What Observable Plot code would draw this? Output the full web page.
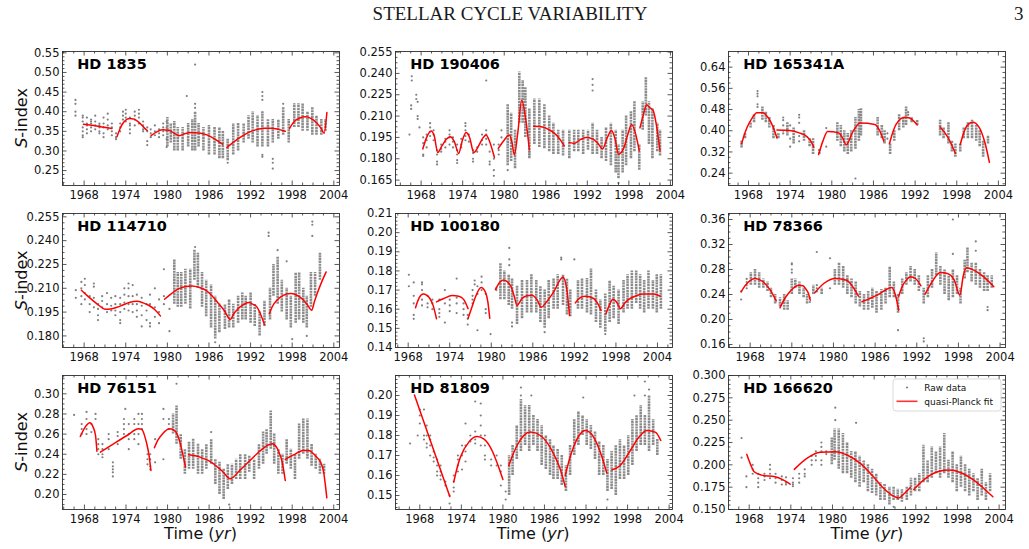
<!DOCTYPE html>
<html>
<head>
<meta charset="utf-8">
<script src="https://cdn.jsdelivr.net/npm/d3@7"></script>
<script src="https://cdn.jsdelivr.net/npm/@observablehq/plot@0.6"></script>
<style>
  html, body { margin: 0; padding: 0; background: #fff; }
  #page { position: relative; width: 1029px; height: 549px; overflow: hidden; background: #fff; }
  #page svg { position: absolute; }
</style>
</head>
<body>
<div id="page"></div>
<script>
// ---- Tick positions -------------------------------------------------------
const xTicks = [1968, 1974, 1980, 1986, 1992, 1998, 2004];
const yTicks1835 = [0.25, 0.30, 0.35, 0.40, 0.45, 0.50, 0.55];
const yTicks190406 = [0.165, 0.180, 0.195, 0.210, 0.225, 0.240, 0.255];
const yTicks165341 = [0.24, 0.32, 0.40, 0.48, 0.56, 0.64];
const yTicks114710 = [0.180, 0.195, 0.210, 0.225, 0.240, 0.255];
const yTicks100180 = [0.14, 0.15, 0.16, 0.17, 0.18, 0.19, 0.20, 0.21];
const yTicks78366 = [0.16, 0.20, 0.24, 0.28, 0.32, 0.36];
const yTicks76151 = [0.20, 0.22, 0.24, 0.26, 0.28, 0.30];
const yTicks81809 = [0.15, 0.16, 0.17, 0.18, 0.19, 0.20];
const yTicks166620 = [0.150, 0.175, 0.200, 0.225, 0.250, 0.275, 0.300];

// ---- HD 1835 ---------------------------------------------------------------
// dense observing seasons: [year, low S, high S]
const hd1835Seasons = [[1980.0,.31,.385],[1980.5,.32,.37],[1981.0,.30,.375],[1981.5,.30,.36],[1982.2,.30,.36],[1983.0,.31,.37],[1983.6,.30,.38],[1984.0,.30,.40],[1984.5,.31,.37],[1985.2,.30,.36],[1986.0,.29,.365],[1986.8,.29,.36],[1987.5,.28,.36],[1988.0,.28,.35],[1988.7,.275,.33],[1989.5,.29,.37],[1990.2,.30,.37],[1991.0,.32,.37],[1991.7,.33,.39],[1992.3,.32,.40],[1993.0,.31,.39],[1993.7,.31,.40],[1994.5,.31,.38],[1995.2,.32,.38],[1996.0,.33,.38],[1996.7,.34,.41],[1997.5,.32,.38],[1998.3,.36,.42],[1998.9,.36,.42],[1999.5,.35,.42],[2000.2,.35,.40],[2000.9,.34,.41],[2001.5,.34,.39],[2002.2,.34,.38],[2002.8,.35,.38]];
// sparse observations: [year, [S values]]
const hd1835Points = [[1966.75,[.43,.42,.40,.39]],[1967.8,[.39,.385,.375,.36,.35,.34,.335]],[1968.4,[.385,.37,.365,.355,.345]],[1969.0,[.38,.375,.37,.36,.35]],[1969.6,[.39,.375,.365,.355]],[1970.2,[.37,.365,.36,.35,.345]],[1970.8,[.385,.37,.36,.345,.335]],[1971.4,[.395,.38,.365,.355]],[1972.0,[.37,.36,.35,.34]],[1972.6,[.345,.335,.33]],[1973.2,[.37,.36,.35]],[1973.6,[.39,.40,.38]],[1974.0,[.405,.395,.385,.375]],[1974.6,[.385,.37,.365,.355,.345]],[1975.3,[.40,.39,.38,.365]],[1975.9,[.405,.395,.385,.37]],[1976.5,[.375,.365,.355,.35]],[1977.1,[.36,.35,.325,.315]],[1977.6,[.355,.345,.335]],[1978.2,[.365,.35,.34]],[1978.8,[.355,.345,.335]],[1979.4,[.37,.36,.35,.34]],[1979.9,[.375,.36,.35,.33,.31]],[1982.8,[.44]],[1984.0,[.52,.42,.41]],[1988.7,[.27]],[1993.7,[.45,.44,.43,.29,.285]],[1995.2,[.28,.27,.255]],[1996.7,[.42]]];
// quasi-Planck fit, one array per cycle segment: [year, S]
const hd1835Fit = [
  [[1967.9,.368],[1970.0,.363],[1972.0,.357]],
  [[1972.75,.337],[1973.2,.358],[1973.7,.373],[1974.2,.381],[1974.6,.383],[1975.2,.381],[1975.9,.373],[1976.5,.362],[1977.1,.352]],
  [[1977.65,.339],[1978.4,.348],[1979.3,.354],[1980.2,.353],[1981.0,.345],[1981.7,.339],[1982.5,.344],[1983.5,.347],[1984.6,.346],[1985.7,.341],[1986.8,.331],[1988.0,.317]],
  [[1988.6,.309],[1989.5,.322],[1990.6,.336],[1991.8,.348],[1993.0,.355],[1994.0,.358],[1995.0,.358],[1996.0,.355],[1997.0,.350]],
  [[1997.6,.357],[1998.3,.375],[1999.1,.384],[1999.9,.387],[2000.7,.383],[2001.5,.372],[2002.2,.357],[2002.6,.345],[2003.0,.398]]
];

// ---- HD 190406 -------------------------------------------------------------
const hd190406Seasons = [[1980.5,.175,.218],[1981.0,.178,.212],[1981.56,.173,.20],[1982.18,.205,.241],[1982.66,.205,.235],[1983.05,.195,.23],[1983.63,.18,.215],[1984.35,.19,.222],[1985.07,.188,.222],[1985.8,.187,.218],[1986.5,.185,.21],[1987.1,.183,.205],[1987.8,.183,.20],[1988.5,.182,.20],[1989.4,.18,.20],[1990.1,.185,.20],[1990.7,.185,.20],[1991.4,.183,.20],[1992.1,.186,.20],[1992.76,.183,.205],[1993.4,.183,.20],[1994.06,.18,.195],[1994.7,.178,.202],[1995.4,.175,.205],[1996.1,.17,.20],[1996.5,.166,.19],[1997.1,.17,.20],[1997.6,.175,.21],[1998.3,.18,.213],[1998.8,.185,.22],[1999.5,.172,.19],[2000.0,.20,.22],[2000.45,.21,.237],[2000.9,.19,.22],[2001.4,.18,.215],[2002.1,.185,.205],[2002.5,.182,.20]];
const hd190406Points = [[1966.32,[.197]],[1966.56,[.2175,.215]],[1966.65,[.238,.235]],[1967.3,[.225,.222]],[1967.5,[.22,.21,.208]],[1967.76,[.202]],[1968.3,[.195,.191,.183,.182]],[1968.8,[.197,.193,.188]],[1969.3,[.205,.202,.199,.196]],[1969.8,[.20,.197,.193]],[1970.3,[.186,.183,.178,.176]],[1970.9,[.19,.187,.185]],[1971.5,[.194,.192,.188]],[1972.1,[.20,.197,.195,.19]],[1972.6,[.195,.192,.188]],[1973.2,[.19,.186,.183,.179,.177]],[1973.8,[.19,.194,.188]],[1974.4,[.205,.203,.20,.196,.193]],[1974.9,[.197,.192]],[1975.5,[.186,.184,.18,.178]],[1976.1,[.188,.185]],[1976.8,[.197,.193,.19]],[1977.4,[.20,.197,.194,.19,.235]],[1977.9,[.185,.178,.176]],[1978.5,[.19,.18,.172,.168]],[1979.2,[.19,.186,.183]],[1979.6,[.20,.195]],[1980.5,[.172]],[1983.63,[.185,.183]],[1992.76,[.228,.232,.236]],[1996.5,[.163]]];
const hd190406Fit = [
  [[1968.24,.1868],[1968.8,.195],[1969.44,.1995],[1969.9,.196],[1970.4,.1844],[1971.0,.189],[1971.6,.1935],[1972.23,.1955],[1972.8,.192],[1973.43,.1837],[1973.9,.192],[1974.49,.1985],[1975.0,.195],[1975.6,.1844],[1976.3,.189],[1976.9,.1945],[1977.38,.1967],[1977.9,.192],[1978.58,.181]],
  [[1979.15,.1873],[1979.9,.1925],[1980.74,.1967],[1981.1,.192],[1981.46,.1828],[1982.0,.20],[1982.52,.2211],[1983.1,.208],[1983.63,.1863]],
  [[1984.25,.2029],[1985.0,.2027],[1985.79,.202],[1986.5,.2003],[1987.23,.198],[1988.0,.194],[1988.67,.189]],
  [[1989.4,.1915],[1990.1,.1908],[1991.0,.1935],[1991.8,.195],[1992.76,.194],[1993.5,.191],[1994.2,.187],[1994.9,.195],[1995.5,.1998],[1996.0,.194],[1996.5,.1832],[1997.3,.188],[1997.9,.198],[1998.4,.204],[1999.0,.197],[1999.5,.1856]],
  [[1999.6,.2017],[2000.1,.211],[2000.55,.218],[2001.0,.216],[2001.5,.214],[2002.0,.203],[2002.5,.1856]]
];

// ---- HD 165341A ------------------------------------------------------------
const hd165341Seasons = [[1967.0,.335,.36],[1967.5,.37,.39],[1968.3,.41,.43],[1968.8,.43,.46],[1970.0,.44,.49],[1970.5,.43,.47],[1971.0,.41,.45],[1971.6,.37,.42],[1972.3,.37,.39],[1973.6,.38,.43],[1974.5,.35,.41],[1976.0,.36,.40],[1976.8,.34,.37],[1977.3,.31,.37],[1978.2,.31,.33],[1980.8,.36,.43],[1981.3,.34,.42],[1981.8,.32,.40],[1982.3,.31,.39],[1982.8,.32,.40],[1983.4,.33,.45],[1983.9,.36,.48],[1984.2,.38,.485],[1986.6,.38,.45],[1987.2,.37,.42],[1987.6,.35,.40],[1988.4,.31,.35],[1989.0,.36,.40],[1989.7,.40,.46],[1990.3,.41,.45],[1990.7,.42,.49],[1991.5,.43,.45],[1992.3,.42,.44],[1995.6,.38,.44],[1996.1,.37,.41],[1996.8,.35,.43],[1997.3,.32,.36],[1997.8,.30,.35],[1998.5,.32,.35],[1999.0,.37,.41],[1999.6,.37,.43],[2000.2,.37,.44],[2000.8,.36,.42],[2001.3,.34,.40],[2001.8,.30,.36],[2002.5,.35,.38]];
const hd165341Points = [[1969.3,[.49,.50,.53,.54,.55]],[1973.0,[.45,.44,.42,.40,.39]],[1974.0,[.42,.37,.34]],[1975.3,[.46,.45,.43,.38,.36]],[1979.2,[.41,.34]],[1983.4,[.22]],[1988.0,[.39,.37]],[1991.0,[.47,.46]]];
const hd165341Fit = [
  [[1967.0,.351],[1967.4,.385],[1967.8,.413],[1968.5,.447],[1969.2,.468],[1970.1,.468],[1970.6,.457],[1971.1,.439],[1971.6,.41],[1972.1,.373]],
  [[1972.1,.403],[1973.0,.402],[1973.9,.401],[1975.3,.392],[1976.5,.376],[1977.0,.36],[1977.4,.338]],
  [[1978.1,.31],[1978.7,.36],[1979.4,.397],[1981.0,.392],[1981.5,.375],[1982.1,.347],[1983.0,.395],[1984.1,.429],[1986.2,.424],[1986.9,.40],[1987.5,.36]],
  [[1988.3,.351],[1988.8,.395],[1989.3,.426],[1990.5,.451],[1991.2,.448],[1992.3,.422]],
  [[1995.6,.414],[1996.7,.376],[1997.8,.315]],
  [[1998.5,.348],[1999.0,.392],[1999.5,.42],[2000.3,.432],[2001.2,.414],[2002.1,.351],[2002.7,.281]]
];

// ---- HD 114710 -------------------------------------------------------------
const hd114710Seasons = [[1981.0,.20,.228],[1981.5,.198,.22],[1982.0,.198,.22],[1982.6,.20,.222],[1983.3,.197,.222],[1983.9,.215,.234],[1984.4,.21,.232],[1985.0,.198,.22],[1985.6,.192,.215],[1986.3,.185,.212],[1986.9,.178,.205],[1987.5,.182,.20],[1988.3,.184,.20],[1988.9,.185,.203],[1989.5,.185,.20],[1990.2,.188,.205],[1990.8,.19,.207],[1991.3,.19,.205],[1992.0,.188,.207],[1992.6,.186,.20],[1993.3,.18,.195],[1994.0,.186,.202],[1994.8,.19,.21],[1995.3,.205,.225],[1995.9,.20,.23],[1996.5,.195,.215],[1997.2,.19,.21],[1997.8,.185,.205],[1998.5,.188,.22],[1999.0,.19,.22],[1999.6,.188,.21],[2000.1,.185,.205],[2000.7,.198,.22],[2001.3,.205,.22],[2002.0,.215,.232]];
const hd114710Points = [[1966.8,[.204,.2088]],[1967.6,[.214,.21,.205,.20]],[1968.1,[.216,.212,.207,.203]],[1968.8,[.205,.20,.195]],[1969.4,[.213,.211,.204,.198]],[1970.0,[.20,.197,.193,.19]],[1970.6,[.205,.202,.198]],[1971.3,[.207,.20,.195]],[1971.9,[.204,.199,.196]],[1972.5,[.205,.20,.196,.193]],[1973.2,[.204,.20,.195,.19,.188]],[1973.8,[.21,.206,.201,.197]],[1974.4,[.213,.21,.205,.20,.196]],[1975.0,[.212,.205,.20,.195]],[1975.6,[.206,.20,.196,.192]],[1976.3,[.204,.199,.193,.186]],[1977.0,[.20,.196,.19]],[1977.5,[.206,.20,.188,.186]],[1978.2,[.21,.198,.192]],[1978.8,[.203,.195,.188]],[1979.5,[.222,.205,.20]],[1980.3,[.197,.183]],[1984.0,[.236]],[1986.9,[.176]],[1994.6,[.243,.245]],[1995.9,[.234]],[1997.2,[.227]],[1998.0,[.178]],[2000.1,[.18]],[2000.9,[.243,.25,.252]]];
const hd114710Fit = [
  [[1967.6,.2088],[1968.4,.2055],[1969.2,.2025],[1970.2,.199],[1971.0,.1968],[1971.8,.197],[1972.7,.198],[1973.5,.1993],[1974.5,.201],[1975.6,.2018],[1976.5,.2008],[1977.3,.1993],[1978.2,.1965],[1979.0,.1926]],
  [[1979.6,.2031],[1980.5,.2063],[1981.4,.2092],[1982.5,.211],[1983.6,.2115],[1984.6,.2105],[1985.5,.2088],[1986.4,.2055],[1987.2,.2014],[1988.2,.196],[1989.1,.1903],[1989.5,.1935],[1990.0,.1962],[1990.9,.1995],[1991.7,.201],[1992.3,.20],[1992.9,.1983],[1993.5,.193],[1994.0,.1871]],
  [[1994.7,.194],[1995.2,.199],[1995.8,.2025],[1996.7,.2055],[1997.7,.2067],[1998.6,.2058],[1999.4,.2035],[2000.2,.1995],[2000.8,.1962],[2001.2,.2015],[2001.6,.2067],[2002.3,.2145],[2002.9,.2203]]
];

// ---- HD 100180 -------------------------------------------------------------
const hd100180Seasons = [[1981.32,.165,.184],[1981.89,.165,.18],[1982.52,.162,.178],[1983.0,.16,.176],[1983.72,.152,.172],[1984.44,.155,.175],[1985.16,.158,.175],[1985.79,.158,.178],[1986.5,.158,.175],[1987.09,.153,.172],[1987.71,.15,.17],[1988.29,.155,.175],[1989.0,.16,.176],[1989.59,.16,.178],[1990.36,.162,.178],[1990.93,.157,.176],[1991.41,.156,.17],[1992.52,.16,.175],[1993.1,.16,.176],[1993.82,.158,.176],[1994.4,.157,.181],[1995.12,.153,.17],[1995.75,.15,.165],[1996.46,.148,.168],[1997.09,.153,.175],[1997.67,.155,.172],[1998.38,.152,.17],[1999.1,.158,.175],[1999.68,.16,.178],[2000.3,.16,.18],[2000.93,.163,.18],[2001.5,.16,.178],[2002.08,.158,.175],[2002.7,.16,.18],[2003.34,.16,.175],[2003.9,.158,.178],[2004.49,.16,.178]];
const hd100180Points = [[1968.1,[.178,.172]],[1968.8,[.174,.167,.163,.157,.155]],[1970.0,[.174,.173,.17,.165,.162]],[1970.8,[.167,.163,.161]],[1971.5,[.165,.163,.16]],[1972.5,[.165,.16,.158,.156]],[1973.3,[.17,.163,.153]],[1974.0,[.165,.162,.159]],[1975.0,[.176,.166,.163,.158]],[1976.0,[.163,.16,.157]],[1976.6,[.155,.152,.157]],[1977.3,[.17,.167,.165,.163]],[1977.6,[.175,.173]],[1978.0,[.172,.168,.149]],[1978.6,[.177,.174,.17]],[1979.2,[.168,.16,.158]],[1979.9,[.147]],[1980.74,[.171,.17]],[1982.6,[.192,.186,.183]],[1983.0,[.153,.151]],[1987.71,[.148]],[1990.1,[.186,.187]],[1992.0,[.186]],[1996.46,[.147]]];
const hd100180Fit = [
  [[1969.06,.1608],[1969.6,.166],[1970.16,.1679],[1970.7,.1672],[1971.13,.1656],[1971.6,.162],[1972.09,.155]],
  [[1972.09,.1638],[1973.14,.1656],[1974.35,.1671],[1975.31,.1668],[1976.03,.165],[1976.65,.1603]],
  [[1976.65,.1553],[1977.2,.161],[1977.71,.1664],[1978.53,.1714],[1979.15,.169],[1979.5,.164],[1979.78,.1553]],
  [[1980.6,.1703],[1981.2,.174],[1981.8,.1753],[1982.42,.174],[1982.9,.1714],[1983.3,.167],[1983.72,.162],[1984.44,.1656],[1985.16,.167],[1985.88,.1673],[1986.6,.165],[1987.23,.161],[1987.8,.163],[1989.0,.169],[1990.35,.1767],[1990.9,.1705],[1991.3,.1567]],
  [[1992.13,.1633],[1992.85,.166],[1993.57,.1668],[1994.78,.1656],[1995.36,.163],[1995.84,.1594]],
  [[1996.56,.1576],[1997.1,.1625],[1997.57,.1652],[1998.14,.1635],[1998.63,.1603],[1999.35,.1635],[2000.07,.1656],[2001.03,.1672],[2001.99,.1679],[2003.43,.1679],[2004.4,.1668]]
];

// ---- HD 78366 --------------------------------------------------------------
const hd78366Seasons = [[1968.1,.255,.275],[1968.7,.255,.28],[1969.3,.25,.275],[1969.9,.25,.265],[1970.5,.245,.26],[1971.0,.235,.25],[1971.6,.225,.24],[1972.3,.22,.235],[1972.9,.215,.24],[1973.4,.215,.23],[1974.0,.24,.265],[1974.5,.25,.265],[1975.1,.24,.26],[1975.7,.235,.25],[1976.2,.225,.24],[1977.1,.24,.255],[1978.3,.24,.25],[1980.2,.255,.28],[1980.8,.255,.29],[1981.4,.25,.285],[1982.0,.24,.27],[1982.6,.235,.265],[1983.2,.225,.26],[1983.8,.22,.245],[1984.4,.215,.24],[1985.0,.215,.245],[1985.6,.218,.25],[1986.2,.21,.245],[1986.9,.215,.248],[1987.5,.225,.25],[1988.1,.235,.285],[1988.7,.235,.26],[1989.3,.21,.24],[1989.9,.24,.265],[1990.5,.255,.275],[1991.1,.26,.285],[1991.7,.255,.28],[1992.3,.245,.27],[1993.0,.225,.25],[1993.6,.235,.27],[1994.2,.25,.28],[1994.8,.27,.307],[1995.4,.255,.285],[1996.0,.24,.28],[1996.6,.23,.27],[1997.2,.235,.28],[1997.8,.24,.27],[1998.3,.225,.25],[1998.9,.265,.295],[1999.3,.275,.315],[1999.9,.26,.29],[2000.5,.255,.29],[2001.1,.25,.28],[2001.7,.245,.275],[2002.2,.245,.27],[2002.8,.25,.27]];
const hd78366Points = [[1966.7,[.232,.245]],[1967.5,[.265,.26,.255,.25]],[1974.0,[.29,.288,.28,.275]],[1976.6,[.235,.228]],[1977.6,[.308,.255,.25,.245]],[1979.5,[.298,.25]],[1989.3,[.183]],[1993.0,[.17,.165]],[1997.2,[.305,.36]],[2000.5,[.325,.31]],[2002.2,[.215,.22]]];
const hd78366Fit = [
  [[1966.7,.2443],[1967.2,.253],[1967.76,.26],[1968.7,.2656],[1969.9,.26],[1970.9,.2469],[1971.75,.2299]],
  [[1972.3,.2187],[1972.9,.232],[1973.5,.2416],[1974.2,.25],[1975.0,.2549],[1975.6,.2539],[1976.0,.249],[1976.4,.2416],[1976.65,.2309]],
  [[1977.3,.2427],[1978.6,.2576],[1980.3,.2656],[1981.9,.2629],[1982.8,.252],[1983.6,.2373]],
  [[1984.1,.2283],[1986.3,.2389],[1988.4,.2512],[1988.9,.24],[1989.4,.2149]],
  [[1989.4,.2373],[1990.0,.2549],[1990.5,.263],[1991.1,.2683],[1991.8,.2656],[1992.6,.2539]],
  [[1993.2,.2405],[1994.2,.2603],[1995.4,.2752],[1996.4,.2736],[1997.4,.2629],[1998.2,.2389],[1998.7,.27],[1999.15,.2827],[2000.2,.2789],[2001.65,.2683],[2003.1,.2523]]
];

// ---- HD 76151 --------------------------------------------------------------
const hd76151Seasons = [[1980.8,.26,.28],[1981.3,.25,.288],[1981.9,.235,.26],[1982.5,.22,.245],[1983.1,.225,.252],[1983.7,.225,.255],[1984.4,.22,.25],[1985.0,.22,.245],[1985.6,.225,.25],[1986.3,.23,.255],[1986.9,.21,.235],[1987.5,.20,.232],[1988.1,.195,.225],[1988.7,.205,.23],[1989.3,.21,.23],[1989.9,.215,.235],[1990.5,.215,.24],[1991.2,.215,.24],[1991.8,.222,.238],[1992.5,.215,.235],[1993.2,.225,.25],[1993.8,.23,.262],[1994.3,.24,.265],[1994.9,.245,.283],[1995.4,.23,.26],[1996.0,.22,.245],[1996.6,.22,.24],[1997.2,.23,.255],[1997.8,.225,.245],[1998.4,.215,.24],[1999.0,.235,.27],[1999.6,.24,.275],[2000.2,.235,.275],[2000.8,.228,.25],[2001.4,.225,.24],[2002.0,.22,.235],[2002.6,.22,.23]];
const hd76151Points = [[1966.5,[.279]],[1967.6,[.27,.265,.26]],[1968.3,[.282,.275,.265,.26]],[1969.0,[.27,.262]],[1969.6,[.28,.275]],[1970.0,[.255,.25,.245,.24]],[1970.6,[.25,.245,.24,.237]],[1971.5,[.26,.255,.245]],[1972.1,[.232,.228,.225,.222,.218]],[1972.8,[.262,.258,.25]],[1973.7,[.275,.27,.265,.26]],[1973.9,[.285]],[1974.4,[.27,.26,.255,.245]],[1975.2,[.275,.27,.26,.255]],[1975.8,[.28,.27,.26,.25]],[1976.3,[.28,.275,.27,.265]],[1977.1,[.24,.235,.23]],[1977.5,[.24,.235,.228,.225]],[1978.2,[.255,.232]],[1979.4,[.285,.275,.235]],[1980.2,[.275,.27,.265]],[1981.3,[.31]],[1986.3,[.262]],[1988.9,[.19]]];
const hd76151Fit = [
  [[1967.4,.2576],[1968.1,.2669],[1968.8,.2712],[1969.25,.2669],[1969.6,.2586],[1969.8,.243]],
  [[1970.3,.242],[1972.2,.2503],[1974.15,.2586],[1975.8,.2652],[1976.3,.2646],[1976.7,.258],[1977.0,.2503],[1977.3,.24],[1977.6,.2238]],
  [[1978.1,.2464],[1978.6,.254],[1979.2,.2596],[1980.3,.2652],[1981.1,.2629],[1981.5,.258],[1981.85,.2503],[1982.2,.24],[1982.6,.2272]],
  [[1983.05,.2394],[1984.7,.2371],[1986.65,.2305],[1988.0,.2225],[1989.05,.2156],[1990.5,.2245],[1991.9,.2338],[1993.0,.241],[1993.9,.2464],[1995.1,.2503],[1995.8,.2464],[1996.2,.24],[1996.5,.2338],[1997.0,.2139]],
  [[1997.0,.2348],[1998.2,.2394],[1999.6,.2437],[2000.35,.2437],[2001.0,.241],[2001.55,.2371],[2002.1,.232],[2002.5,.2238],[2003.0,.1967]]
];

// ---- HD 81809 --------------------------------------------------------------
const hd81809Seasons = [[1980.9,.15,.17],[1981.4,.16,.175],[1982.0,.168,.185],[1982.6,.172,.198],[1983.2,.175,.195],[1983.8,.172,.195],[1984.4,.175,.19],[1985.0,.172,.188],[1985.6,.165,.185],[1986.2,.163,.18],[1986.8,.16,.178],[1987.3,.158,.175],[1987.9,.158,.173],[1988.5,.155,.17],[1989.1,.152,.165],[1989.7,.16,.175],[1990.3,.17,.188],[1990.9,.175,.192],[1991.5,.18,.19],[1992.1,.175,.188],[1992.7,.173,.185],[1993.3,.168,.182],[1993.9,.16,.177],[1994.5,.16,.175],[1995.1,.152,.168],[1995.7,.153,.172],[1996.3,.15,.175],[1996.9,.158,.178],[1997.5,.158,.175],[1998.1,.16,.18],[1998.7,.165,.188],[1999.3,.172,.19],[1999.9,.175,.195],[2000.5,.175,.19],[2001.1,.172,.20],[2001.7,.175,.188],[2002.3,.17,.178]];
const hd81809Points = [[1966.6,[.176]],[1967.7,[.18]],[1968.0,[.193,.19,.186]],[1968.6,[.193,.18,.178]],[1969.0,[.185,.18,.176,.174]],[1969.5,[.18,.178,.175,.17]],[1970.0,[.172,.169,.167]],[1970.5,[.168,.165,.162,.16]],[1971.0,[.165,.162,.16,.158]],[1971.7,[.157,.155]],[1972.3,[.15,.146]],[1972.9,[.16,.157,.154,.152]],[1973.5,[.17,.168,.165,.162]],[1974.1,[.175,.17,.163]],[1974.6,[.186,.175,.172,.167]],[1975.3,[.18,.177]],[1976.0,[.197,.182,.178,.176]],[1976.8,[.196,.19,.185,.18,.175]],[1977.4,[.18,.175,.17,.168]],[1978.3,[.168,.165]],[1979.1,[.17,.165]],[1979.7,[.165,.162,.155]],[1980.4,[.148,.152]],[1982.6,[.204,.20]],[1984.1,[.20]],[1991.6,[.199]],[1995.1,[.148]],[1999.0,[.20]],[2000.5,[.20,.207]],[2001.1,[.203]]];
const hd81809Fit = [
  [[1967.23,.2003],[1972.33,.1495]],
  [[1972.9,.1567],[1973.4,.164],[1973.87,.1692],[1975.07,.1767],[1976.27,.1795],[1977.23,.1783],[1978.43,.1725],[1979.3,.165],[1980.0,.158]],
  [[1980.84,.165],[1982.04,.175],[1983.96,.1817],[1985.4,.18],[1987.33,.1708],[1988.3,.163],[1989.0,.1545]],
  [[1989.0,.16],[1989.6,.168],[1990.2,.1742],[1991.0,.18],[1991.9,.1825],[1993.1,.1792],[1994.06,.1717],[1994.6,.166],[1995.0,.1612]],
  [[1995.74,.1628],[1996.94,.165],[1998.4,.1725],[1999.6,.179],[2000.8,.1825],[2002.0,.1817],[2002.8,.1775]]
];

// ---- HD 166620 -------------------------------------------------------------
const hd166620Seasons = [[1979.9,.20,.23],[1980.3,.205,.24],[1980.9,.195,.24],[1981.5,.19,.235],[1982.1,.19,.225],[1982.7,.185,.215],[1983.3,.18,.215],[1983.9,.175,.21],[1984.5,.18,.205],[1985.1,.17,.20],[1985.7,.168,.195],[1986.3,.165,.19],[1986.9,.16,.18],[1987.5,.16,.178],[1988.2,.155,.175],[1988.8,.16,.175],[1989.4,.16,.173],[1990.0,.158,.172],[1990.7,.16,.175],[1991.3,.165,.185],[1991.9,.17,.185],[1992.5,.17,.19],[1993.1,.18,.222],[1993.7,.18,.205],[1994.3,.185,.22],[1994.9,.19,.215],[1995.5,.185,.22],[1996.1,.19,.235],[1996.7,.185,.205],[1997.3,.18,.215],[1997.9,.17,.20],[1998.5,.175,.21],[1999.1,.17,.20],[1999.7,.165,.195],[2000.3,.17,.19],[2000.9,.16,.185],[2001.5,.165,.195],[2002.1,.16,.18],[2002.7,.17,.19]];
const hd166620Points = [[1966.9,[.23,.208]],[1967.6,[.187,.175]],[1968.5,[.20,.195,.19]],[1969.3,[.19,.185,.18,.175]],[1970.2,[.19,.187,.183]],[1971.0,[.20,.195,.19,.185]],[1971.8,[.19,.185,.18]],[1972.7,[.187,.183,.178]],[1973.3,[.186,.18,.178]],[1974.3,[.185,.18,.178,.176]],[1975.2,[.19,.185,.18]],[1976.0,[.195,.19,.187]],[1977.0,[.21,.205,.20]],[1977.6,[.215,.21,.205]],[1978.4,[.225,.22,.215,.205,.20]],[1979.1,[.215,.212]],[1980.4,[.264,.25]],[1983.4,[.247]],[1988.8,[.153]]];
const hd166620Fit = [
  [[1967.66,.2117],[1968.24,.1997],[1968.72,.1923],[1969.8,.1885],[1971.75,.1866],[1972.95,.1829],[1973.9,.1784]],
  [[1974.5,.1949],[1976.3,.2072],[1978.24,.214],[1980.4,.2147],[1982.1,.211],[1984.0,.2016],[1985.9,.1866],[1987.4,.1735],[1988.8,.1649],[1989.5,.163],[1990.35,.1679],[1991.2,.1747]],
  [[1991.7,.1724],[1993.6,.1859],[1995.5,.193],[1996.75,.1941],[1998.4,.1915],[2000.35,.1829],[2001.8,.1735],[2003.1,.1642]]
];

// ---- Panels (row-major) ----------------------------------------------------
const panels = [
  {name: "HD 1835",   seasons: hd1835Seasons,   points: hd1835Points,   fit: hd1835Fit,   x: [1964.88, 2004.82], y: [0.212, 0.5534],  yTicks: yTicks1835,   yMinor: 0.01,    digits: 2},
  {name: "HD 190406", seasons: hd190406Seasons, points: hd190406Points, fit: hd190406Fit, x: [1964.30, 2004.30], y: [0.1612, 0.2554], yTicks: yTicks190406, yMinor: 0.00375, digits: 3},
  {name: "HD 165341A",seasons: hd165341Seasons, points: hd165341Points, fit: hd165341Fit, x: [1965.12, 2005.02], y: [0.1935, 0.699],  yTicks: yTicks165341, yMinor: 0.02,    digits: 2},
  {name: "HD 114710", seasons: hd114710Seasons, points: hd114710Points, fit: hd114710Fit, x: [1964.88, 2004.82], y: [0.1727, 0.2571], yTicks: yTicks114710, yMinor: 0.00375, digits: 3},
  {name: "HD 100180", seasons: hd100180Seasons, points: hd100180Points, fit: hd100180Fit, x: [1966.17, 2006.17], y: [0.14, 0.21],     yTicks: yTicks100180, yMinor: 0.002,   digits: 2},
  {name: "HD 78366",  seasons: hd78366Seasons,  points: hd78366Points,  fit: hd78366Fit,  x: [1964.88, 2004.78], y: [0.1552, 0.3696], yTicks: yTicks78366,  yMinor: 0.01,    digits: 2},
  {name: "HD 76151",  seasons: hd76151Seasons,  points: hd76151Points,  fit: hd76151Fit,  x: [1964.83, 2004.83], y: [0.1851, 0.3182], yTicks: yTicks76151,  yMinor: 0.005,   digits: 2},
  {name: "HD 81809",  seasons: hd81809Seasons,  points: hd81809Points,  fit: hd81809Fit,  x: [1964.49, 2004.49], y: [0.143, 0.21],    yTicks: yTicks81809,  yMinor: 0.002,   digits: 2},
  {name: "HD 166620", seasons: hd166620Seasons, points: hd166620Points, fit: hd166620Fit, x: [1965.02, 2004.92], y: [0.15, 0.30],     yTicks: yTicks166620, yMinor: 0.005,   digits: 3}
];

// ---- Layout ----------------------------------------------------------------
const W = 277, H = 134;                 // frame size of each panel
const mL = 46, mR = 8, mT = 6, mB = 22;
const colX = [62, 394.7, 728.3];
const rowY = [51, 213.3, 375];
const GREY = "#808080", FRAME = "#2e2e2e";

function ladder([a, b], base, step) {
  const lo = Math.min(a, b), hi = Math.max(a, b), out = [];
  for (let k = Math.ceil((lo - base) / step - 1e-9); base + k * step <= hi + 1e-9; k++) out.push(+(base + k * step).toFixed(6));
  return out;
}
const within = (v, [a, b]) => v >= Math.min(a, b) - 1e-9 && v <= Math.max(a, b) + 1e-9;
const notIn = (list) => (v) => !list.some((m) => Math.abs(m - v) < 1e-7);

const page = document.getElementById("page");

panels.forEach((p, i) => {
  const col = i % 3, row = Math.floor(i / 3);
  const seasons = p.seasons.map(([t, lo, hi]) => ({t, lo, hi}));
  const pts = p.points.flatMap(([t, ss]) => ss.map((s) => ({t, s})));
  const fit = p.fit.flatMap((seg, k) => seg.map(([t, s]) => ({seg: k, t, s})));
  const xMaj = xTicks.filter((v) => within(v, p.x));
  const xMin = ladder(p.x, 1968, 1.5).filter(notIn(xTicks));
  const yMaj = p.yTicks.filter((v) => within(v, p.y));
  const yMin = ladder(p.y, p.yTicks[0], p.yMinor).filter(notIn(p.yTicks));
  const tk = {stroke: FRAME, strokeWidth: 0.8};

  const svg = Plot.plot({
    width: W + mL + mR,
    height: H + mT + mB,
    marginLeft: mL, marginRight: mR, marginTop: mT, marginBottom: mB,
    x: {domain: p.x},
    y: {domain: p.y},
    style: {fontFamily: '"DejaVu Sans", sans-serif', fontSize: "11.5px", color: "#111", background: "none", overflow: "visible"},
    marks: [
      // each dense season is a stippled column of closely packed observations
      Plot.ruleX(seasons, {x: "t", y1: "lo", y2: "hi", stroke: GREY, strokeWidth: 2.6, strokeOpacity: 0.9, strokeDasharray: "2.2,0.6"}),
      Plot.dot(pts, {x: "t", y: "s", r: 1.1, fill: GREY, stroke: null}),
      Plot.line(fit, {x: "t", y: "s", z: "seg", stroke: "#ff0000", strokeWidth: 1.5, curve: "monotone-x"}),
      Plot.frame({stroke: FRAME, strokeWidth: 0.9}),
      // inward major/minor ticks on all four sides
      Plot.ruleX(xMaj, {x: (d) => d, insetTop: H - 4.5, ...tk}),
      Plot.ruleX(xMaj, {x: (d) => d, insetBottom: H - 4.5, ...tk}),
      Plot.ruleX(xMin, {x: (d) => d, insetTop: H - 2.5, ...tk}),
      Plot.ruleX(xMin, {x: (d) => d, insetBottom: H - 2.5, ...tk}),
      Plot.ruleY(yMaj, {y: (d) => d, insetRight: W - 4.5, ...tk}),
      Plot.ruleY(yMaj, {y: (d) => d, insetLeft: W - 4.5, ...tk}),
      Plot.ruleY(yMin, {y: (d) => d, insetRight: W - 2.5, ...tk}),
      Plot.ruleY(yMin, {y: (d) => d, insetLeft: W - 2.5, ...tk}),
      Plot.axisX(xMaj, {anchor: "bottom", tickSize: 0, tickPadding: 5, tickFormat: (d) => String(d), label: null, fill: "#111"}),
      Plot.axisY(yMaj, {anchor: "left", tickSize: 0, tickPadding: 3, tickFormat: (d) => d.toFixed(p.digits), label: null, fill: "#111"}),
      Plot.text([p.name], {text: (d) => d, frameAnchor: "top-left", dx: 14.7, dy: 7.6, lineAnchor: "top", textAnchor: "start", fontWeight: "bold", fontSize: 14.5, fill: "#000"})
    ]
  });
  svg.style.left = (colX[col] - mL) + "px";
  svg.style.top = (rowY[row] - mT) + "px";
  page.appendChild(svg);
});

// ---- Page title, shared axis labels and legend ----------------------------
const over = d3.select(page).append("svg")
  .attr("width", 1029).attr("height", 549)
  .style("left", "0px").style("top", "0px");

over.append("text").attr("x", 510).attr("y", 20).attr("text-anchor", "middle")
  .attr("font-family", '"Liberation Serif", "Times New Roman", serif').attr("font-size", 19).attr("fill", "#1a1a1a")
  .text("STELLAR CYCLE VARIABILITY");
over.append("text").attr("x", 1014).attr("y", 20)
  .attr("font-family", '"Liberation Serif", "Times New Roman", serif').attr("font-size", 19).attr("fill", "#1a1a1a")
  .text("3");

rowY.forEach((y0) => {
  const t = over.append("text")
    .attr("transform", `translate(27.3,${y0 + H / 2}) rotate(-90)`)
    .attr("text-anchor", "middle")
    .attr("font-family", '"DejaVu Sans", sans-serif').attr("font-size", 16).attr("fill", "#111");
  t.append("tspan").attr("font-style", "italic").text("S");
  t.append("tspan").text("-index");
});

colX.forEach((x0) => {
  const t = over.append("text")
    .attr("x", x0 + W / 2).attr("y", 539).attr("text-anchor", "middle")
    .attr("font-family", '"DejaVu Sans", sans-serif').attr("font-size", 16).attr("fill", "#111");
  t.append("tspan").text("Time (");
  t.append("tspan").attr("font-style", "italic").text("yr");
  t.append("tspan").text(")");
});

const lg = over.append("g").attr("font-family", '"DejaVu Sans", sans-serif').attr("font-size", 9).attr("fill", "#111");
lg.append("rect").attr("x", 893).attr("y", 379).attr("width", 108).attr("height", 32).attr("rx", 3)
  .attr("fill", "#fff").attr("fill-opacity", 0.85).attr("stroke", "#d0d0d0").attr("stroke-width", 0.8);
lg.append("circle").attr("cx", 907).attr("cy", 387.5).attr("r", 1.1).attr("fill", GREY);
lg.append("text").attr("x", 924.3).attr("y", 391).text("Raw data");
lg.append("line").attr("x1", 896.5).attr("x2", 917.5).attr("y1", 401.3).attr("y2", 401.3)
  .attr("stroke", "#ff0000").attr("stroke-opacity", 0.8).attr("stroke-width", 1.6);
lg.append("text").attr("x", 924.3).attr("y", 405).text("quasi-Planck fit");
</script>
</body>
</html>
